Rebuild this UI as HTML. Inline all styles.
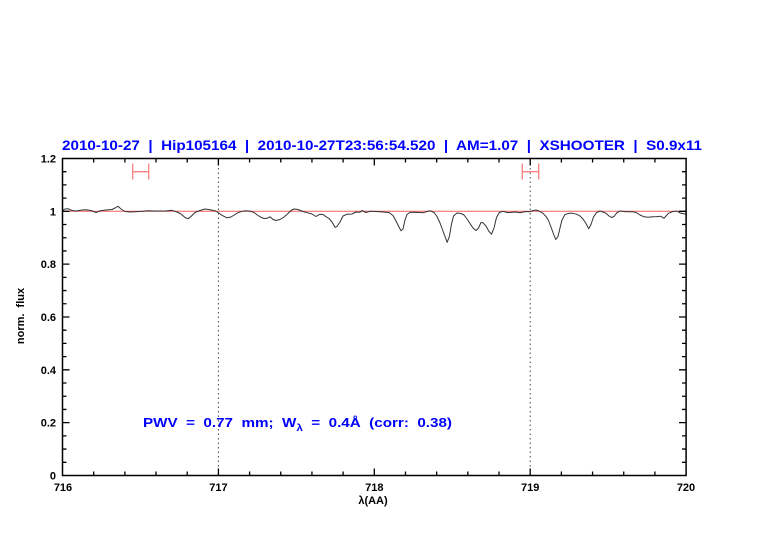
<!DOCTYPE html>
<html><head><meta charset="utf-8"><style>
html,body{margin:0;padding:0;background:#fff;}
svg{display:block;}
text{font-family:"Liberation Sans",sans-serif;white-space:pre;}
</style></head><body>
<svg width="782" height="542" viewBox="0 0 782 542" xmlns="http://www.w3.org/2000/svg" xml:space="preserve">
<rect width="782" height="542" fill="#fff"/>
<text x="62" y="150" font-size="14" font-weight="bold" fill="#0000ff" textLength="640" lengthAdjust="spacingAndGlyphs">2010-10-27  |  Hip105164  |  2010-10-27T23:56:54.520  |  AM=1.07  |  XSHOOTER  |  S0.9x11</text>
<line x1="218.4" y1="159" x2="218.4" y2="475" stroke="#444" stroke-width="1" stroke-dasharray="1.5,3"/>
<line x1="530.2" y1="159" x2="530.2" y2="475" stroke="#444" stroke-width="1" stroke-dasharray="1.5,3"/>
<line x1="62.5" y1="211.3" x2="686" y2="211.3" stroke="#f06060" stroke-width="1"/>
<g stroke="#ff8080" stroke-width="1.3" fill="none">
<path d="M132.7,171.7H148.7M132.7,163.5V179.5M148.7,163.5V179.5"/>
<path d="M522.3,171.7H538.7M522.3,163.5V179.5M538.7,163.5V179.5"/>
</g>
<polyline fill="none" stroke="#333" stroke-width="1" stroke-linejoin="round" points="62.5,210.5 65,209 68,208.7 72,210.5 76,211 80,210.3 86,209.8 91,210.5 96,212.5 100,210.8 106,210 112,209.5 115,208 118,206.3 121,209 125,211.5 130,212 140,211.5 148,210.8 155,211 165,211 172,210.3 177,212 181,214 185,217.5 188,218.8 191,216.5 195,212.5 200,210.5 205,209 210,209.8 215,210.7 218,212.5 222,215.3 227,217.8 231,217 235,214.5 238,212.7 242,211.3 246,210.8 250,211.2 254,212.5 258,215.5 261,217.3 264,218.5 267,218.3 270,216.8 273,219.5 276,220.5 280,219.5 284,217 288,213.5 291,210.5 294,209 298,209.5 303,211.5 307,212.7 312,214 316,216.5 320,214.2 323,214.5 326,216.7 329,218.5 332,222 335,227.3 337,226.5 340,222 343,216 347,214.2 352,214 356,212 360,212.3 362,210.5 366,212.5 370,211.3 376,211.5 383,212 389,212.5 393,215.5 396,221 399,227 401,230.7 403,229 405,220 407,214.5 410,212.4 416,212.3 423,212.8 427,211.5 430,210.7 434,212.5 437,216.5 440,223 443,231 445,236.5 447.2,242.3 449.5,236 451.5,224 453.5,216 457,213 461,213.5 464,215 467,219 470,223.5 473,228 476,230.5 478.5,228 481,222.5 483,222.8 486,226 489,231.5 491.5,234.2 494,228 496.5,217.5 499.3,212.5 503,211.3 507,212.5 510,212.5 515,212 520,212.8 526,211.5 530,211.7 533,210.5 536,210 539,211 543,213.3 546,216.5 548.5,220.5 551,227 553.5,234 555.7,239.5 558,236.5 560,228 562,220 565,214.5 569,213.3 573,213.3 577,214.3 580,216 583,219 586,223.5 588.7,228.7 591,224.5 593.5,217 596.5,212.7 600,211 603,212 606,213.3 609,216 611.5,217.5 614,216.5 617,212.7 620,211 626,211.7 633,211.7 637,213 640,215 644,216.8 648,217.3 653,216.7 657,216.6 660,216.2 662,217 664,218.3 666,216 668.5,213.3 672,211.8 676.5,211 680,213 683,213.6 686,214"/>
<rect x="62.5" y="158.5" width="623.6" height="317" fill="none" stroke="#000" stroke-width="1.5"/>
<g stroke="#000" stroke-width="1.3">
<path d="M93.68,475.5v-4M124.86,475.5v-4M156.04,475.5v-4M187.22,475.5v-4M249.58,475.5v-4M280.76,475.5v-4M311.94,475.5v-4M343.12,475.5v-4M405.48,475.5v-4M436.66,475.5v-4M467.84,475.5v-4M499.02,475.5v-4M561.38,475.5v-4M592.56,475.5v-4M623.74,475.5v-4M654.92,475.5v-4"/>
<path d="M218.4,475.5v-7M374.3,475.5v-7M530.2,475.5v-7"/>
<path d="M93.68,158.5v4M124.86,158.5v4M156.04,158.5v4M187.22,158.5v4M249.58,158.5v4M280.76,158.5v4M311.94,158.5v4M343.12,158.5v4M405.48,158.5v4M436.66,158.5v4M467.84,158.5v4M499.02,158.5v4M561.38,158.5v4M592.56,158.5v4M623.74,158.5v4M654.92,158.5v4"/>
<path d="M218.4,158.5v7M374.3,158.5v7M530.2,158.5v7"/>
<path d="M62.5,462.29h4M62.5,449.08h4M62.5,435.87h4M62.5,409.45h4M62.5,396.24h4M62.5,383.03h4M62.5,356.61h4M62.5,343.4h4M62.5,330.19h4M62.5,303.77h4M62.5,290.56h4M62.5,277.35h4M62.5,250.93h4M62.5,237.72h4M62.5,224.51h4M62.5,198.09h4M62.5,184.88h4M62.5,171.67h4"/>
<path d="M62.5,422.66h7M62.5,369.82h7M62.5,316.98h7M62.5,264.14h7M62.5,211.3h7"/>
<path d="M686,462.29h-4M686,449.08h-4M686,435.87h-4M686,409.45h-4M686,396.24h-4M686,383.03h-4M686,356.61h-4M686,343.4h-4M686,330.19h-4M686,303.77h-4M686,290.56h-4M686,277.35h-4M686,250.93h-4M686,237.72h-4M686,224.51h-4M686,198.09h-4M686,184.88h-4M686,171.67h-4"/>
<path d="M686,422.66h-7M686,369.82h-7M686,316.98h-7M686,264.14h-7M686,211.3h-7"/>
</g>
<g font-size="11" font-weight="bold" fill="#000" text-anchor="end">
<text x="56" y="162.5">1.2</text>
<text x="56" y="215.3">1</text>
<text x="56" y="268.2">0.8</text>
<text x="56" y="321">0.6</text>
<text x="56" y="373.8">0.4</text>
<text x="56" y="426.7">0.2</text>
<text x="56" y="479.5">0</text>
</g>
<g font-size="11" font-weight="bold" fill="#000" text-anchor="middle">
<text x="63" y="491">716</text>
<text x="218.4" y="491">717</text>
<text x="374.3" y="491">718</text>
<text x="530.2" y="491">719</text>
<text x="686" y="491">720</text>
</g>
<text x="373" y="504" font-size="11" font-weight="bold" text-anchor="middle">λ(AA)</text>
<text transform="translate(24,316) rotate(-90)" font-size="11" font-weight="bold" text-anchor="middle">norm.  flux</text>
<text x="143" y="427" font-size="13" font-weight="bold" fill="#0000ff" textLength="309" lengthAdjust="spacingAndGlyphs">PWV  =  0.77  mm;  W<tspan font-size="10" dy="4">λ</tspan><tspan dy="-4">  =  0.4Å  (corr:  0.38)</tspan></text>
</svg>
</body></html>
